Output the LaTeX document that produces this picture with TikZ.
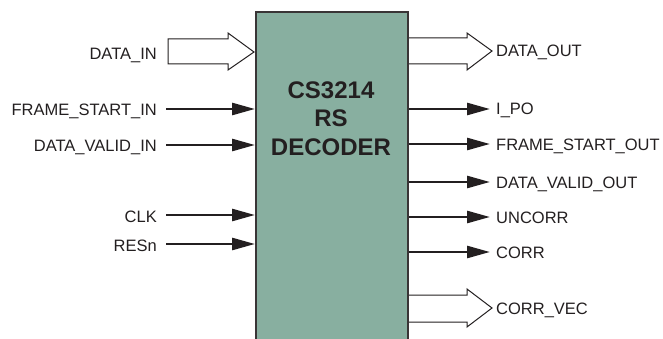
\documentclass[tikz,border=0pt]{standalone}
\usepackage{fontspec}
\setmainfont{Liberation Sans}
\usetikzlibrary{arrows.meta}
\definecolor{boxfill}{RGB}{136,175,160}
\definecolor{ink}{RGB}{35,31,32}
\begin{document}
\begin{tikzpicture}[x=1pt,y=-1pt,
  lbl/.style={font=\fontsize{16.5}{19}\selectfont, text=ink, inner sep=0pt},
  sig/.style={draw=ink, line width=2.6pt, -{Triangle[length=23pt,width=12pt]}},
  bus/.style={draw=ink, line width=1pt, fill=white, line join=miter},
  ttl/.style={font=\fontsize{24}{28}\selectfont\bfseries, text=ink, inner sep=0pt}]
\useasboundingbox (0,0) rectangle (663,339);
\clip (0,0) rectangle (663,339);
% bus arrows on the right (drawn under the box border)
\draw[bus] (407,38) -- (467,38) -- (467,33) -- (492,51) -- (467,70) -- (467,64) -- (407,64);
\draw[bus] (407,295) -- (467,295) -- (467,289) -- (492,308) -- (467,327) -- (467,322) -- (407,322);
% box
\node[draw=ink!90, line width=1.8pt, fill=boxfill, minimum width=152pt, minimum height=349pt,
      inner sep=0pt, anchor=north west] (dec) at (255,11) {};
\node[ttl, anchor=base] (t1) at (331,98.5) {CS3214};
\node[ttl, anchor=base] (t2) at (331,127) {RS};
\node[ttl, anchor=base] (t3) at (331,155.5) {DECODER};
% left bus arrow
\draw[bus] (168,39) -- (228,39) -- (228,33) -- (254,52) -- (228,70) -- (228,64) -- (168,64) -- cycle;
% left labels
\node[lbl, anchor=base east] (lDI)  at (157,60)  {DATA\_IN};
\node[lbl, anchor=base east] (lFSI) at (157,116) {FRAME\_START\_IN};
\node[lbl, anchor=base east] (lDVI) at (157,152) {DATA\_VALID\_IN};
\node[lbl, anchor=base east] (lCLK) at (157,222) {CLK};
\node[lbl, anchor=base east] (lRES) at (157,251) {RESn};
% left signal arrows
\coordinate (aFSI) at (166,109);
\coordinate (aDVI) at (166,145);
\coordinate (aCLK) at (166,215);
\coordinate (aRES) at (166,244);
\draw[sig] (aFSI) -- (aFSI -| dec.west);
\draw[sig] (aDVI) -- (aDVI -| dec.west);
\draw[sig] (aCLK) -- (aCLK -| dec.west);
\draw[sig] (aRES) -- (aRES -| dec.west);
% right labels
\node[lbl, anchor=base west] (lDO)   at (496,57)  {DATA\_OUT};
\node[lbl, anchor=base west] (lIPO)  at (496,115) {I\_PO};
\node[lbl, anchor=base west] (lFSO)  at (496,150) {FRAME\_START\_OUT};
\node[lbl, anchor=base west] (lDVO)  at (496,188) {DATA\_VALID\_OUT};
\node[lbl, anchor=base west] (lUNC)  at (496,223) {UNCORR};
\node[lbl, anchor=base west] (lCOR)  at (496,258) {CORR};
\node[lbl, anchor=base west] (lCV)   at (496,314) {CORR\_VEC};
% right signal arrows
\coordinate (bIPO) at (490,109);
\coordinate (bFSO) at (490,144);
\coordinate (bDVO) at (490,182);
\coordinate (bUNC) at (490,217);
\coordinate (bCOR) at (490,252);
\draw[sig] (bIPO -| dec.east) -- (bIPO);
\draw[sig] (bFSO -| dec.east) -- (bFSO);
\draw[sig] (bDVO -| dec.east) -- (bDVO);
\draw[sig] (bUNC -| dec.east) -- (bUNC);
\draw[sig] (bCOR -| dec.east) -- (bCOR);
\end{tikzpicture}
\end{document}
